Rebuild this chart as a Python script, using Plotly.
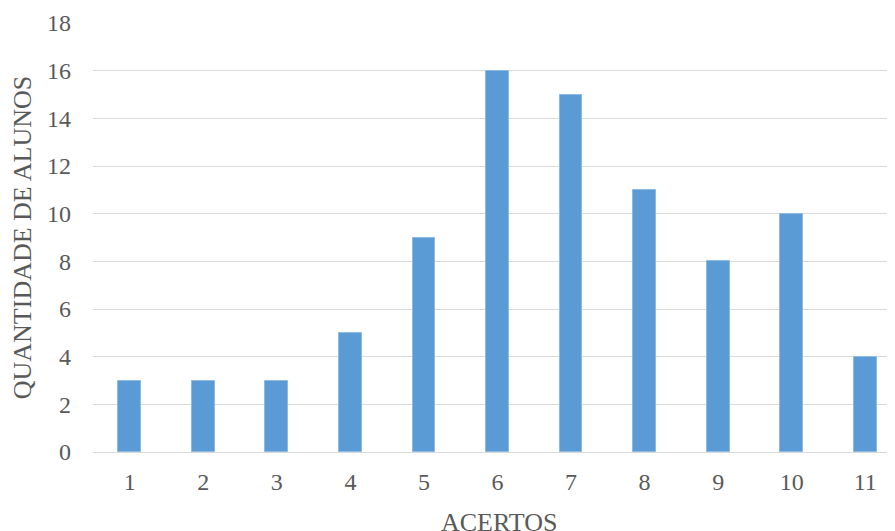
import plotly.graph_objects as go

acertos = [1, 2, 3, 4, 5, 6, 7, 8, 9, 10, 11]
alunos = [3, 3, 3, 5, 9, 16, 15, 11, 8, 10, 4]
y_ticks = [0, 2, 4, 6, 8, 10, 12, 14, 16, 18]

FONT = "Liberation Serif, Times New Roman, serif"
GRAY = "#595959"

fig = go.Figure(go.Bar(
    x=acertos, y=alunos, width=0.31,
    marker=dict(color="#5B9BD5", line=dict(width=1, color="#8DB9E3")),
))

# page body has an 8px margin, so the figure is offset by (8, 8) in the window
fig.update_layout(
    width=895, height=531,
    margin=dict(l=85, r=0, t=15, b=87, autoexpand=False),
    paper_bgcolor="white", plot_bgcolor="white",
    font=dict(family=FONT, color=GRAY, size=24),
    showlegend=False,
    bargap=0,
)
fig.add_annotation(
    text="ACERTOS", xref="paper", yref="paper", x=0.501, y=-0.165,
    xanchor="center", yanchor="middle", showarrow=False,
    font=dict(size=26, family=FONT, color=GRAY),
)
fig.update_xaxes(
    range=[0.5, 11.513], tickvals=acertos, ticktext=[str(a) for a in acertos],
    showgrid=False, zeroline=False, showline=False, ticks="",
    tickfont=dict(size=24, family=FONT, color=GRAY),
    ticklabelstandoff=13, automargin=False,
)
fig.update_yaxes(
    range=[0, 18], tickvals=y_ticks,
    showgrid=True, gridcolor="#D9D9D9", gridwidth=1,
    zeroline=True, zerolinecolor="#D9D9D9", zerolinewidth=1,
    showline=False, ticks="", automargin=False,
    tickfont=dict(size=24, family=FONT, color=GRAY),
    ticklabelstandoff=21,
    title=dict(text="QUANTIDADE DE ALUNOS", font=dict(size=26, family=FONT, color=GRAY), standoff=11),
)

fig.write_html("out.html")
